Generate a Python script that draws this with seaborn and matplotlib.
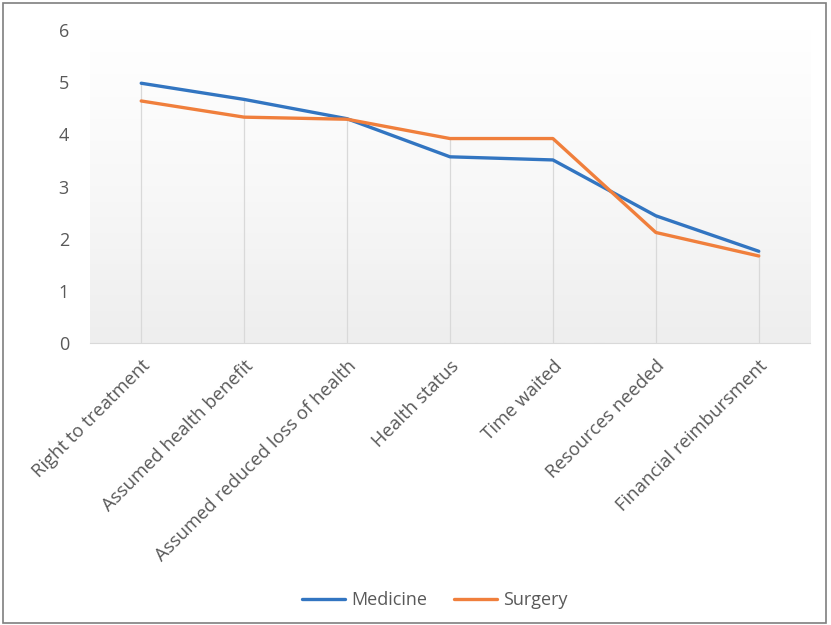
import numpy as np
import pandas as pd
import matplotlib
matplotlib.use("Agg")
import matplotlib.pyplot as plt
from matplotlib.colors import LinearSegmentedColormap
from matplotlib.patches import Rectangle
import seaborn as sns

categories = [
    "Right to treatment",
    "Assumed health benefit",
    "Assumed reduced loss of health",
    "Health status",
    "Time waited",
    "Resources needed",
    "Financial reimbursment",
]
medicine = [4.98, 4.67, 4.30, 3.57, 3.51, 2.44, 1.76]
surgery = [4.64, 4.33, 4.29, 3.92, 3.92, 2.12, 1.67]
y_ticks = [0, 1, 2, 3, 4, 5, 6]

df = pd.DataFrame({
    "category": categories * 2,
    "value": medicine + surgery,
    "group": ["Medicine"] * len(categories) + ["Surgery"] * len(categories),
})

sns.set_style("white")
plt.rcParams["font.family"] = ["Open Sans", "DejaVu Sans"]

fig = plt.figure(figsize=(8.31, 6.25), dpi=100)
ax = fig.add_axes([0.108, 0.451, 0.867, 0.501])

# soft vertical gradient behind the plot
grad = np.linspace(0, 1, 256).reshape(-1, 1)
cmap = LinearSegmentedColormap.from_list("bg", ["#eeeeee", "#f8f8f8", "#ffffff"])
ax.imshow(grad, extent=[0, 1, 0, 1], transform=ax.transAxes, cmap=cmap,
          aspect="auto", origin="lower", zorder=0)

sns.lineplot(data=df, x="category", y="value", hue="group",
             palette={"Medicine": "#3275c1", "Surgery": "#f07f3c"},
             linewidth=2.4, sort=False, ax=ax, zorder=3)

# drop lines from the higher series down to the axis
tops = df.groupby("category", sort=False)["value"].max()
ax.vlines(tops.index, 0, tops.values, color="#d9d9d9", linewidth=0.9, zorder=1)

ax.set_xlim(-0.5, len(categories) - 0.5)
ax.set_ylim(0, 6)
ax.set_yticks(y_ticks)
ax.set_yticklabels([str(t) for t in y_ticks], fontsize=13, color="#595959")
ax.tick_params(axis="y", length=0, pad=15)
ax.tick_params(axis="x", length=0, pad=10)
ax.set_xticks(range(len(categories)))
ax.set_xticklabels(categories, rotation=45, ha="right", rotation_mode="anchor",
                   fontsize=13.3, color="#595959")
ax.set_xlabel("")
ax.set_ylabel("")
for s in ["top", "right", "left"]:
    ax.spines[s].set_visible(False)
ax.spines["bottom"].set_color("#d9d9d9")

leg = ax.legend(loc="center", bbox_to_anchor=(0.523, 0.04), bbox_transform=fig.transFigure,
                ncol=2, frameon=False, fontsize=13, handlelength=2.4,
                columnspacing=1.5, handletextpad=0.3)
for t in leg.get_texts():
    t.set_color("#595959")

fig.patches.append(Rectangle((0.004, 0.004), 0.99, 0.992, transform=fig.transFigure,
                             fill=False, edgecolor="#7f7f7f", linewidth=1.2))

fig.savefig("out.png", dpi=100)
